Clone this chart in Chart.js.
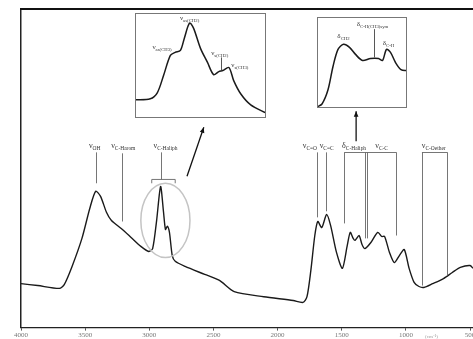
<!DOCTYPE html>
<html>
<head>
<meta charset="utf-8">
<script src="https://cdn.jsdelivr.net/npm/chart.js@4.4.1/dist/chart.umd.min.js"></script>
<style>
  html, body { margin: 0; padding: 0; background: #fff; }
  #wrap { position: relative; width: 473px; height: 339px; overflow: hidden; }
  #wrap canvas { position: absolute; }
</style>
</head>
<body>
<div id="wrap">
  <canvas id="mainChart" width="473" height="339" style="left:0;top:0"></canvas>
  <canvas id="inset1" width="131" height="105" style="left:135px;top:13px"></canvas>
  <canvas id="inset2" width="90" height="91" style="left:317px;top:17px"></canvas>
</div>
<script>
// main spectrum (cm-1, absorbance a.u.)
const mainWavenumbers = [4000, 3870, 3701, 3663, 3602, 3525, 3464, 3418, 3380, 3334, 3295, 3219, 3142, 3066, 3004, 2974,
  2943, 2912, 2889, 2874, 2859, 2843, 2821, 2798, 2721, 2568, 2453, 2338, 2108, 1878, 1802, 1771, 1741, 1710, 1687,
  1656, 1618, 1587, 1541, 1495, 1457, 1434, 1411, 1396, 1365, 1342, 1319, 1273, 1220, 1189, 1166, 1128, 1090, 1051,
  1013, 975, 936, 898, 860, 791, 707, 638, 576, 500, 477];
const mainAbsorbance = [13.8, 13.2, 12.3, 13.5, 19.2, 28.0, 37.4, 42.8, 41.2, 36.2, 33.6, 31.1, 28.3, 25.5, 23.9, 24.8,
  33.6, 44.3, 36.2, 30.8, 31.8, 29.9, 22.6, 20.8, 19.2, 16.7, 14.8, 11.3, 9.7, 8.5, 7.9, 9.7, 17.9, 28.9, 33.3,
  31.4, 35.5, 32.1, 23.6, 18.6, 25.8, 29.9, 28.0, 27.4, 28.9, 26.1, 24.8, 26.7, 29.9, 28.6, 28.6, 23.6, 20.4, 22.6,
  24.5, 18.6, 14.2, 12.9, 12.6, 13.8, 15.4, 17.3, 18.9, 19.5, 18.6];

// zoom of the C-H stretching region
const inset1Wavenumbers = [3050, 3015, 2999, 2985, 2969, 2958, 2946, 2937, 2925, 2916, 2900, 2884, 2870, 2858, 2849, 2835, 2824, 2808, 2785, 2750];
const inset1Absorbance = [17.3, 18.3, 24, 40, 59.6, 62.5, 64.4, 76, 90.4, 85.6, 66.3, 52.9, 41.3, 44.2, 45.2, 48.1, 35.6, 23.1, 12.5, 4.8];

// zoom of the C-H bending region
const inset2Wavenumbers = [1520, 1510, 1498, 1488, 1478, 1467, 1455, 1443, 1429, 1413, 1397, 1389, 1381, 1373, 1363, 1352, 1340];
const inset2Absorbance = [1.1, 4.4, 20, 45.6, 64.4, 70, 66.7, 58.9, 52.2, 54.4, 54.4, 52.2, 64.4, 61.1, 50, 42.2, 41.1];

const tickValues = [4000, 3500, 3000, 2500, 2000, 1500, 1000, 500];

// band labels on the main plot
const bandSymbols = ['ν', 'ν', 'ν', 'ν', 'ν', 'δ', 'ν', 'ν'];
const bandSubs = ['OH', 'C-Harom', 'C-Haliph', 'C=O', 'C=C', 'C-Haliph', 'C-C', 'C-Oether'];
const bandLabelAt = [3426, 3203, 2874, 1748, 1618, 1404, 1189, 783];
const labelLevel = 56.3;

// marker lines: wavenumber, top, bottom
const markerAt = [3418, 3211, 2905, 1695, 1626, 1480, 1319, 1304, 1074, 875, 676];
const markerTop = [55, 54.7, 55, 55, 55, 55, 55, 55, 55, 55, 55];
const markerBottom = [45.3, 33.3, 46.5, 34.6, 36.5, 32.7, 28.0, 28.0, 28.9, 13.2, 16.4];
const bracketFrom = [1480, 1319, 875];
const bracketTo = [1319, 1074, 676];

// inset labels
const inset1Syms = ['ν', 'ν', 'ν', 'ν'];
const inset1Subs = ['as(CH2)', 'as(CH3)', 's(CH2)', 's(CH3)'];
const inset1LabelX = [2925, 2988, 2856, 2810];
const inset1LabelY = [93.3, 65.4, 59.6, 48.1];
const inset2Syms = ['δ', 'δ', 'δ'];
const inset2Subs = ['CH2', 'C-H(CH3)sym', 'C-H'];
const inset2LabelX = [1467, 1409, 1377];
const inset2LabelY = [76.7, 90, 68.9];

const FONT = '"Liberation Serif"';

function drawBand(ctx, sym, sub, cx, base, size) {
  ctx.font = size + 'px ' + FONT;
  const w1 = ctx.measureText(sym).width;
  ctx.font = (size * 0.68) + 'px ' + FONT;
  const w2 = ctx.measureText(sub).width;
  const x0 = cx - (w1 + w2) / 2;
  ctx.textAlign = 'left';
  ctx.textBaseline = 'alphabetic';
  ctx.fillStyle = '#333';
  ctx.font = size + 'px ' + FONT;
  ctx.fillText(sym, x0, base);
  ctx.font = (size * 0.68) + 'px ' + FONT;
  ctx.fillText(sub, x0 + w1, base + size * 0.22);
}

function arrow(ctx, x1, y1, x2, y2) {
  ctx.beginPath();
  ctx.moveTo(x1, y1);
  ctx.lineTo(x2, y2);
  ctx.stroke();
  const a = Math.atan2(y2 - y1, x2 - x1);
  ctx.beginPath();
  ctx.moveTo(x2, y2);
  ctx.lineTo(x2 - 6 * Math.cos(a - 0.4), y2 - 6 * Math.sin(a - 0.4));
  ctx.lineTo(x2 - 6 * Math.cos(a + 0.4), y2 - 6 * Math.sin(a + 0.4));
  ctx.closePath();
  ctx.fill();
}

const annotate = {
  id: 'annotate',
  afterDatasetsDraw(chart) {
    const { ctx, chartArea, scales: { x, y } } = chart;
    ctx.save();
    // heavy top rule
    ctx.strokeStyle = '#111';
    ctx.lineWidth = 2;
    ctx.beginPath();
    ctx.moveTo(chartArea.left - 1, chartArea.top);
    ctx.lineTo(chartArea.right, chartArea.top);
    ctx.stroke();

    // marker lines
    ctx.strokeStyle = '#666';
    ctx.lineWidth = 0.9;
    markerAt.forEach((w, i) => {
      const px = Math.round(x.getPixelForValue(w)) + 0.5;
      ctx.beginPath();
      ctx.moveTo(px, y.getPixelForValue(markerTop[i]));
      ctx.lineTo(px, y.getPixelForValue(markerBottom[i]));
      ctx.stroke();
    });
    bracketFrom.forEach((w, i) => {
      const py = Math.round(y.getPixelForValue(55)) + 0.5;
      ctx.beginPath();
      ctx.moveTo(x.getPixelForValue(w), py);
      ctx.lineTo(x.getPixelForValue(bracketTo[i]), py);
      ctx.stroke();
    });
    // small bracket over the C-H peaks
    const by = y.getPixelForValue(46.5), by2 = y.getPixelForValue(45.3);
    const bx1 = x.getPixelForValue(2981), bx2 = x.getPixelForValue(2798);
    ctx.beginPath();
    ctx.moveTo(bx1, by2); ctx.lineTo(bx1, by); ctx.lineTo(bx2, by); ctx.lineTo(bx2, by2);
    ctx.stroke();

    // ellipse round the C-H peaks
    const ex1 = x.getPixelForValue(3066), ex2 = x.getPixelForValue(2683);
    const ey1 = y.getPixelForValue(45.3), ey2 = y.getPixelForValue(22.0);
    ctx.strokeStyle = '#c4c4c4';
    ctx.lineWidth = 1.5;
    ctx.beginPath();
    ctx.ellipse((ex1 + ex2) / 2, (ey1 + ey2) / 2, (ex2 - ex1) / 2, (ey2 - ey1) / 2, 0, 0, Math.PI * 2);
    ctx.stroke();

    // arrows to the insets
    ctx.strokeStyle = '#111';
    ctx.fillStyle = '#111';
    ctx.lineWidth = 1.3;
    arrow(ctx, x.getPixelForValue(2706), y.getPixelForValue(47.5), x.getPixelForValue(2575), y.getPixelForValue(62.9));
    arrow(ctx, x.getPixelForValue(1388), y.getPixelForValue(58.5), x.getPixelForValue(1388), y.getPixelForValue(67.9));

    // band labels
    bandSymbols.forEach((s, i) => {
      drawBand(ctx, s, bandSubs[i], x.getPixelForValue(bandLabelAt[i]), y.getPixelForValue(labelLevel), 8);
    });

    // unit
    ctx.fillStyle = '#999';
    ctx.font = '5px ' + FONT;
    ctx.textAlign = 'center';
    ctx.fillText('(cm⁻¹)', x.getPixelForValue(800), chartArea.bottom + 10);
    ctx.restore();
  }
};

new Chart(document.getElementById('mainChart'), {
  type: 'line',
  data: {
    datasets: [{
      data: mainWavenumbers.map((w, i) => ({ x: w, y: mainAbsorbance[i] })),
      borderColor: '#1a1a1a',
      borderWidth: 1.4,
      pointRadius: 0,
      tension: 0.25,
      fill: false
    }]
  },
  options: {
    responsive: false,
    animation: false,
    events: [],
    layout: { padding: { left: 13, top: 9, right: 0, bottom: 0 } },
    plugins: { legend: { display: false }, tooltip: { enabled: false } },
    scales: {
      x: {
        type: 'linear', reverse: true, min: 477, max: 4000,
        afterBuildTicks: s => { s.ticks = tickValues.map(v => ({ value: v })); },
        afterFit: s => { s.paddingLeft = 0; s.paddingRight = 0; },
        grid: { display: true, drawOnChartArea: false, drawTicks: true, tickLength: 3, color: '#555' },
        border: { display: true, color: '#222', width: 1.2 },
        ticks: {
          padding: 0, maxRotation: 0, autoSkip: false, color: '#777',
          font: { family: 'Liberation Serif', size: 7 },
          callback: v => String(v)
        }
      },
      y: {
        min: 0, max: 100,
        ticks: { display: false },
        grid: { display: false },
        border: { display: true, color: '#222', width: 1.5 }
      }
    }
  },
  plugins: [annotate]
});

function insetPlugin(syms, subs, lx, ly, extra) {
  return {
    id: 'insetDeco',
    afterDatasetsDraw(chart) {
      const { ctx, scales: { x, y } } = chart;
      ctx.save();
      ctx.strokeStyle = '#777';
      ctx.lineWidth = 1;
      ctx.strokeRect(0.5, 0.5, chart.width - 1, chart.height - 1);
      if (extra) {
        ctx.strokeStyle = '#444';
        ctx.lineWidth = 0.9;
        const px = Math.round(x.getPixelForValue(extra[0])) + 0.5;
        ctx.beginPath();
        ctx.moveTo(px, y.getPixelForValue(extra[1]));
        ctx.lineTo(px, y.getPixelForValue(extra[2]));
        ctx.stroke();
      }
      syms.forEach((s, i) => {
        drawBand(ctx, s, subs[i], x.getPixelForValue(lx[i]), y.getPixelForValue(ly[i]), 7);
      });
      ctx.restore();
    }
  };
}

function makeInset(id, xs, ys, xmin, xmax, deco) {
  new Chart(document.getElementById(id), {
    type: 'line',
    data: {
      datasets: [{
        data: xs.map((w, i) => ({ x: w, y: ys[i] })),
        borderColor: '#1a1a1a',
        borderWidth: 1.5,
        pointRadius: 0,
        tension: 0.3,
        fill: false
      }]
    },
    options: {
      responsive: false,
      animation: false,
      events: [],
      layout: { padding: 0 },
      plugins: { legend: { display: false }, tooltip: { enabled: false } },
      scales: {
        x: { type: 'linear', reverse: true, min: xmin, max: xmax, display: false },
        y: { min: 0, max: 100, display: false }
      }
    },
    plugins: [deco]
  });
}

makeInset('inset1', inset1Wavenumbers, inset1Absorbance, 2750, 3050,
  insetPlugin(inset1Syms, inset1Subs, inset1LabelX, inset1LabelY, [2854, 57.7, 45.2]));
makeInset('inset2', inset2Wavenumbers, inset2Absorbance, 1340, 1520,
  insetPlugin(inset2Syms, inset2Subs, inset2LabelX, inset2LabelY, [1407, 86.7, 55.6]));
</script>
</body>
</html>
